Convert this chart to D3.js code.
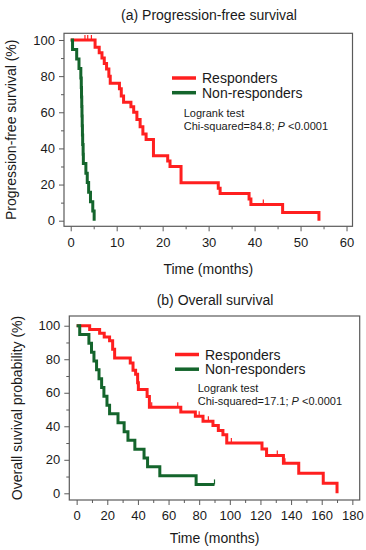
<!DOCTYPE html>
<html lang="en">
<head>
  <meta charset="UTF-8">
  <title>Survival curves</title>
  <script src="https://cdn.jsdelivr.net/npm/d3@7"></script>
  <style>
    body { margin: 0; background: #fff; }
    svg { display: block; font-family: 'Liberation Sans', Arial, sans-serif; }
  </style>
</head>
<body>
  <script>
    // (a) progression-free survival
    const pfsRespTime = [0, 5.3, 6.2, 6.8, 7.3, 7.8, 8.3, 8.6, 10.6, 11.0, 11.5, 13.1, 13.7, 14.4, 15.1, 15.7, 16.4, 18.0, 21.1, 21.6, 24.0, 32.1, 32.5, 38.8, 39.2, 46.1, 54.0];
    const pfsRespSurv = [100, 96, 93, 90, 87, 84, 80, 76, 73, 69, 65.5, 63, 60, 56, 52, 48, 45, 36, 33, 30, 21, 18, 15, 12, 9, 4.5, 0];
    const pfsRespCens = [[3.1, 100], [3.7, 100], [4.5, 100], [41.9, 9]];
    const pfsNonTime = [0, 0.4, 1.3, 1.8, 2.2, 2.3, 2.35, 2.4, 2.45, 2.5, 2.55, 2.6, 2.7, 2.75, 3.3, 3.6, 3.9, 4.3, 4.8, 5.1];
    const pfsNonSurv = [100, 94.7, 89.5, 84.2, 78.9, 73.7, 68.4, 63.2, 57.9, 52.6, 47.4, 42.1, 36.8, 31.6, 26.3, 21.1, 15.8, 10.5, 5.3, 0];

    // (b) overall survival
    const osRespTime = [0, 8.5, 15, 18, 21.5, 23.5, 24.8, 35, 36.8, 38.5, 39.8, 40.3, 46, 47.5, 68, 77.5, 82.5, 89, 92.5, 95.5, 98, 121, 124, 135, 145, 161, 170];
    const osRespSurv = [100, 97.8, 95.5, 93.3, 91, 86, 80.7, 77.8, 73.5, 71, 66, 62, 57.8, 51.3, 48.5, 46, 43, 40.5, 37.5, 35, 30, 26.5, 22.5, 18, 12, 6, 0];
    const osRespCens = [[49, 51.3], [66, 51.3], [80, 46], [86, 43], [101, 30], [131, 22.5], [136, 18]];
    const osNonTime = [0, 2, 8, 9.7, 11.3, 13, 14.6, 16.3, 17.8, 19.8, 21.5, 27, 31, 33.5, 38, 44, 46.3, 54.3, 78, 90];
    const osNonSurv = [100, 94.7, 89.5, 84.2, 78.9, 73.7, 68.4, 63.2, 57.9, 52.6, 47.4, 42.1, 36.8, 31.6, 26.3, 21.1, 15.8, 10.5, 5.3, 5.3];
    const osNonCens = [[90, 5.3]];

    const yTicks = [0, 20, 40, 60, 80, 100];
    const yMinor = [10, 30, 50, 70, 90];
    const pfsXTicks = [0, 10, 20, 30, 40, 50, 60];
    const pfsXMinor = [5, 15, 25, 35, 45, 55];
    const osXTicks = [0, 20, 40, 60, 80, 100, 120, 140, 160, 180];
    const osXMinor = [10, 30, 50, 70, 90, 110, 130, 150, 170];

    const red = "#ff1f1f", green = "#14652c", ink = "#1a1a1a", frame = "#5a5a5a";

    const svg = d3.select("body").append("svg")
        .attr("width", 366)
        .attr("height", 550);

    const zip = (t, s) => t.map((v, i) => [v, s[i]]);

    function panel(o) {
      const x = d3.scaleLinear().domain(o.xDomain).range([o.left, o.right]);
      const y = d3.scaleLinear().domain(o.yDomain).range([o.bottom, o.top]);
      const g = svg.append("g");

      g.append("text")
          .attr("x", o.titleX).attr("y", o.titleY)
          .attr("text-anchor", "middle")
          .attr("font-size", 14).attr("fill", ink)
          .text(o.title);

      // axes: major + minor ticks, outside the frame
      const axisStyle = sel => {
        sel.select(".domain").remove();
        sel.selectAll("line").attr("stroke", frame).attr("stroke-width", 1);
        sel.selectAll("text").attr("fill", ink).attr("font-size", 13).attr("font-family", null);
      };
      g.append("g").attr("transform", `translate(${o.left},0)`)
          .call(d3.axisLeft(y).tickValues(yTicks).tickSize(5).tickPadding(4))
          .call(axisStyle);
      g.append("g").attr("transform", `translate(${o.left},0)`)
          .call(d3.axisLeft(y).tickValues(yMinor).tickSize(3).tickFormat(""))
          .call(axisStyle);
      g.append("g").attr("transform", `translate(0,${o.bottom})`)
          .call(d3.axisBottom(x).tickValues(o.xTicks).tickSize(5).tickPadding(6))
          .call(axisStyle);
      g.append("g").attr("transform", `translate(0,${o.bottom})`)
          .call(d3.axisBottom(x).tickValues(o.xMinor).tickSize(3).tickFormat(""))
          .call(axisStyle);

      g.append("rect")
          .attr("x", o.left).attr("y", o.top)
          .attr("width", o.right - o.left).attr("height", o.bottom - o.top)
          .attr("fill", "none").attr("stroke", frame).attr("stroke-width", 1.2);

      g.append("text")
          .attr("x", (o.left + o.right) / 2 + o.xTitleShift).attr("y", o.xTitleY)
          .attr("text-anchor", "middle").attr("font-size", 14).attr("fill", ink)
          .text("Time (months)");
      g.append("text")
          .attr("transform", `translate(${o.yTitleX},${(o.top + o.bottom) / 2}) rotate(-90)`)
          .attr("text-anchor", "middle").attr("font-size", 14).attr("fill", ink)
          .text(o.yTitle);

      const line = d3.line().x(d => x(d[0])).y(d => y(d[1])).curve(d3.curveStepAfter);
      o.curves.forEach(c => {
        g.append("path")
            .attr("d", line(c.pts))
            .attr("fill", "none").attr("stroke", c.color)
            .attr("stroke-width", 3).attr("stroke-linejoin", "miter");
        g.selectAll(null).data(c.cens).join("line")
            .attr("x1", d => x(d[0])).attr("x2", d => x(d[0]))
            .attr("y1", d => y(d[1])).attr("y2", d => y(d[1]) - 5)
            .attr("stroke", c.color).attr("stroke-width", 1.2);
      });

      // legend
      const L = o.legend;
      [["Responders", red], ["Non-responders", green]].forEach((e, i) => {
        const ly = L.y + i * L.gap;
        g.append("line")
            .attr("x1", L.x).attr("x2", L.x + 24).attr("y1", ly).attr("y2", ly)
            .attr("stroke", e[1]).attr("stroke-width", 3.5);
        g.append("text")
            .attr("x", L.x + 30).attr("y", ly + 5)
            .attr("font-size", 14).attr("fill", ink).text(e[0]);
      });
      g.append("text")
          .attr("x", L.tx).attr("y", L.ty)
          .attr("font-size", 11).attr("fill", ink).text("Logrank test");
      const chi = g.append("text")
          .attr("x", L.tx).attr("y", L.ty + 13.5)
          .attr("font-size", 11).attr("fill", ink);
      chi.append("tspan").text(`Chi-squared=${o.chi}; `);
      chi.append("tspan").attr("font-style", "italic").text("P");
      chi.append("tspan").text(" <0.0001");
    }

    panel({
      title: "(a) Progression-free survival", titleX: 209, titleY: 20,
      left: 64, right: 352.5, top: 33.3, bottom: 226.3,
      xDomain: [-1.46, 61.3], yDomain: [-3.1, 103.7],
      xTicks: pfsXTicks, xMinor: pfsXMinor,
      xTitleY: 274, xTitleShift: 0,
      yTitle: "Progression-free survival (%)", yTitleX: 16,
      chi: "84.8",
      legend: { x: 172, y: 78, gap: 14.7, tx: 183.7, ty: 116.5 },
      curves: [
        { pts: zip(pfsRespTime, pfsRespSurv), color: red, cens: pfsRespCens },
        { pts: zip(pfsNonTime, pfsNonSurv), color: green, cens: [] }
      ]
    });

    panel({
      title: "(b) Overall survival", titleX: 215, titleY: 305,
      left: 69.3, right: 359.7, top: 316, bottom: 500,
      xDomain: [-4.8, 184.8], yDomain: [-4, 105.8],
      xTicks: osXTicks, xMinor: osXMinor,
      xTitleY: 543, xTitleShift: 0,
      yTitle: "Overall suvival probability (%)", yTitleX: 22,
      chi: "17.1",
      legend: { x: 175, y: 354.5, gap: 14.7, tx: 197.7, ty: 391.5 },
      curves: [
        { pts: zip(osRespTime, osRespSurv), color: red, cens: osRespCens },
        { pts: zip(osNonTime, osNonSurv), color: green, cens: osNonCens }
      ]
    });
  </script>
</body>
</html>
